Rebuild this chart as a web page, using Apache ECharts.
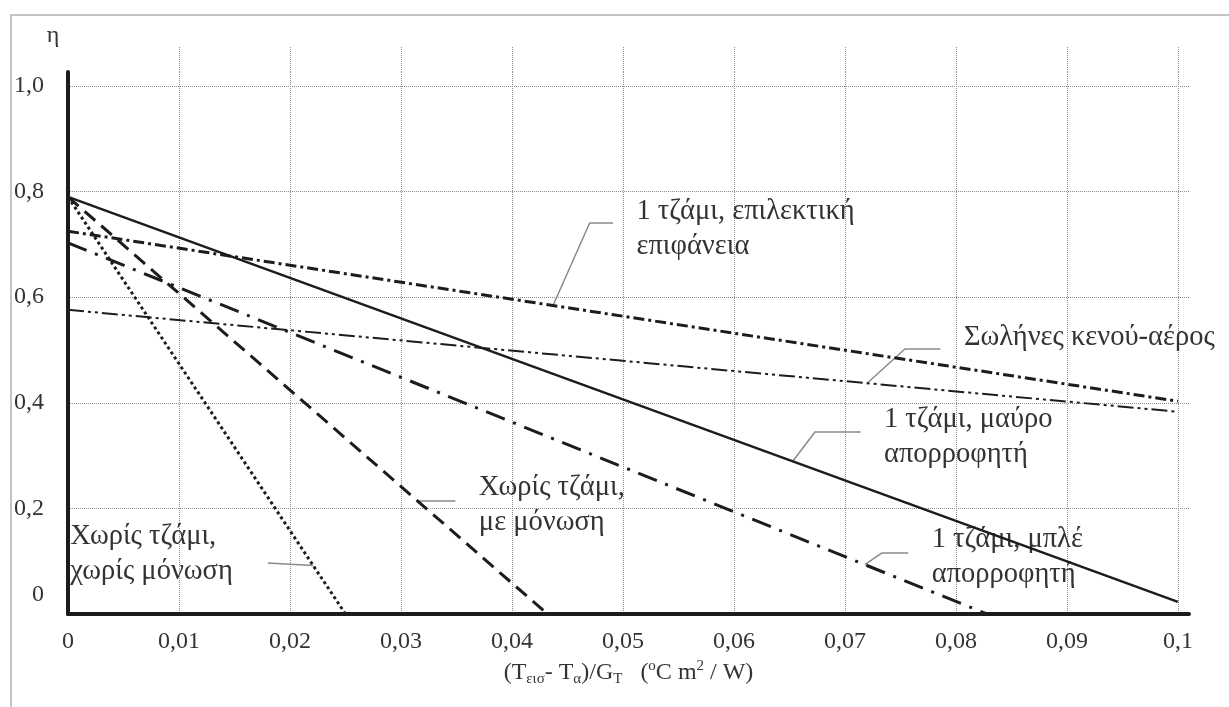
<!DOCTYPE html>
<html>
<head>
<meta charset="utf-8">
<script src="https://cdn.jsdelivr.net/npm/echarts@6/dist/echarts.min.js"></script>
<style>
  html, body { margin: 0; padding: 0; background: #fff; }
  #frame {
    position: absolute; left: 10px; top: 14px; right: 0; bottom: 0;
    border-top: 2px solid #c4c4c4; border-left: 2px solid #c4c4c4;
  }
  #chart { position: absolute; left: 0; top: 0; width: 1229px; height: 707px; }
</style>
</head>
<body>
<div id="frame"></div>
<div id="chart"></div>
<script>
// efficiency curves, [x, eta] end points
const blackAbsorber = [[0, 0.79], [0.1, 0.023]];
const selectiveSurface = [[0, 0.725], [0.1, 0.403]];
const vacuumTubes = [[0, 0.576], [0.1, 0.383]];
const blueAbsorber = [[0, 0.703], [0.0828, 0]];
const unglazedInsulated = [[0, 0.79], [0.0432, 0]];
const unglazedBare = [[0, 0.79], [0.025, 0]];

const xTickStep = 0.01;
const yTickStep = 0.2;

const serif = "'Liberation Serif', 'DejaVu Serif', serif";
const ink = '#1c1c1c';
const textInk = '#333';

function yAt(line, x) {
  const [[x0, y0], [x1, y1]] = line;
  return y0 + (y1 - y0) * (x - x0) / (x1 - x0);
}

// annotations: where the leader touches the curve, its bend, and the text
const notes = [
  { line: selectiveSurface, at: 0.0437, path: [[0.0470, 0.7405], [0.0491, 0.7405]],
    text: ['1 τζάμι, επιλεκτική', 'επιφάνεια'], dy: 6 },
  { line: vacuumTubes, at: 0.072, path: [[0.0754, 0.502], [0.0786, 0.502]],
    text: ['Σωλήνες κενού-αέρος'], dy: -11 },
  { line: blackAbsorber, at: 0.0653, path: [[0.0673, 0.3447], [0.0714, 0.3447]],
    text: ['1 τζάμι, μαύρο', 'απορροφητή'], dy: 5 },
  { line: unglazedInsulated, at: 0.0315, path: [[0.0349, 0.214]],
    text: ['Χωρίς τζάμι,', 'με μόνωση'], dy: 4 },
  { line: blueAbsorber, at: 0.0718, path: [[0.0733, 0.1155], [0.0757, 0.1155]],
    text: ['1 τζάμι, μπλέ', 'απορροφητή'], dy: 4 },
  { line: unglazedBare, at: 0.0221, path: [[0.0180, 0.0966]],
    text: ['Χωρίς τζάμι,', 'χωρίς μόνωση'], dy: -9, side: 'left' }
];

const curveStyles = [
  { data: blackAbsorber, type: 'solid', width: 2.5 },
  { data: selectiveSurface, type: [11, 4, 3, 4], width: 3 },
  { data: vacuumTubes, type: [16, 4, 3, 4, 3, 4], width: 2 },
  { data: blueAbsorber, type: [20, 9, 3, 9], width: 3 },
  { data: unglazedInsulated, type: [14, 8], width: 3 },
  { data: unglazedBare, type: [3, 3], width: 3 }
];

const labelFont = { fontFamily: serif, fontSize: 28.5, lineHeight: 35, color: textInk };

const curveSeries = curveStyles.map((c) => ({
  type: 'line',
  data: c.data,
  showSymbol: false,
  lineStyle: { color: ink, width: c.width, type: c.type },
  emphasis: { disabled: true },
  z: 3
}));

const leaderSeries = notes.map((n) => {
  const onCurve = [n.at, yAt(n.line, n.at)];
  const left = n.side === 'left';
  const pts = left ? [...n.path, onCurve] : [onCurve, ...n.path];
  const textIdx = left ? 0 : pts.length - 1;
  const data = pts.map((p, i) => {
    if (i !== textIdx) return { value: p };
    const label = Object.assign({
      show: true,
      position: left ? 'left' : 'right',
      distance: left ? 35 : 23,
      offset: [0, n.dy]
    }, labelFont);
    if (left) {
      label.formatter = n.text.map((t) => '{a|' + t + '}').join('\n');
      label.rich = { a: Object.assign({ width: 162, align: 'left' }, labelFont) };
    } else {
      label.formatter = n.text.join('\n');
    }
    return { value: p, label: label };
  });
  return {
    type: 'line',
    data: data,
    symbol: 'circle',
    symbolSize: 1,
    itemStyle: { color: 'rgba(0,0,0,0)' },
    lineStyle: { color: '#8a8a8a', width: 1.5 },
    emphasis: { disabled: true },
    z: 2
  };
});

const gridLine = { show: true, lineStyle: { color: '#8c8c8c', type: 'dotted', width: 1 } };

const chart = echarts.init(document.getElementById('chart'));
chart.setOption({
  animation: false,
  grid: [
    { left: 68, top: 72, width: 1121, height: 542 },
    { left: 68, top: 47, width: 1121, height: 25 }
  ],
  xAxis: [
    {
      type: 'value', gridIndex: 0, min: 0, max: 0.101, interval: xTickStep,
      axisLine: { lineStyle: { color: ink, width: 4 } },
      axisTick: { show: false },
      axisLabel: {
        margin: 16, fontFamily: serif, fontSize: 24, color: textInk, showMaxLabel: false,
        formatter: (v) => String(Math.round(v * 100) / 100).replace('.', ',')
      },
      splitLine: Object.assign({ showMinLine: false, showMaxLine: false }, gridLine),
      name: '(T{sub|εισ}- T{sub|α})/G{sub|T}   ({sup|o}C m{sup|2} / W)',
      nameLocation: 'middle',
      nameGap: 44,
      nameTextStyle: {
        fontFamily: serif, fontSize: 24, color: textInk, lineHeight: 28,
        rich: {
          sub: { fontFamily: serif, fontSize: 15, color: textInk, verticalAlign: 'bottom' },
          sup: { fontFamily: serif, fontSize: 15, color: textInk, verticalAlign: 'top' }
        }
      }
    },
    {
      type: 'value', gridIndex: 1, min: 0, max: 0.101, interval: xTickStep,
      axisLine: { show: false }, axisTick: { show: false }, axisLabel: { show: false },
      splitLine: Object.assign({ showMinLine: false, showMaxLine: false }, gridLine)
    }
  ],
  yAxis: [
    {
      type: 'value', gridIndex: 0, min: 0, max: 1.0265, interval: yTickStep,
      axisLine: { show: true, lineStyle: { color: ink, width: 4 } },
      axisTick: { show: false },
      axisLabel: {
        margin: 24, fontFamily: serif, fontSize: 24, color: textInk, showMaxLabel: false,
        formatter: (v) => v === 0 ? '{z|0}' : v.toFixed(1).replace('.', ','),
        rich: { z: { fontFamily: serif, fontSize: 24, color: textInk, padding: [0, 0, 38, 0] } }
      },
      splitLine: Object.assign({ showMinLine: false, showMaxLine: false }, gridLine),
      name: 'η',
      nameLocation: 'end',
      nameGap: 24,
      nameTextStyle: { fontFamily: serif, fontSize: 24, color: textInk, padding: [0, 30, 0, 0] }
    },
    { type: 'value', gridIndex: 1, min: 0, max: 1, show: false }
  ],
  series: [...leaderSeries, ...curveSeries]
});
</script>
</body>
</html>
